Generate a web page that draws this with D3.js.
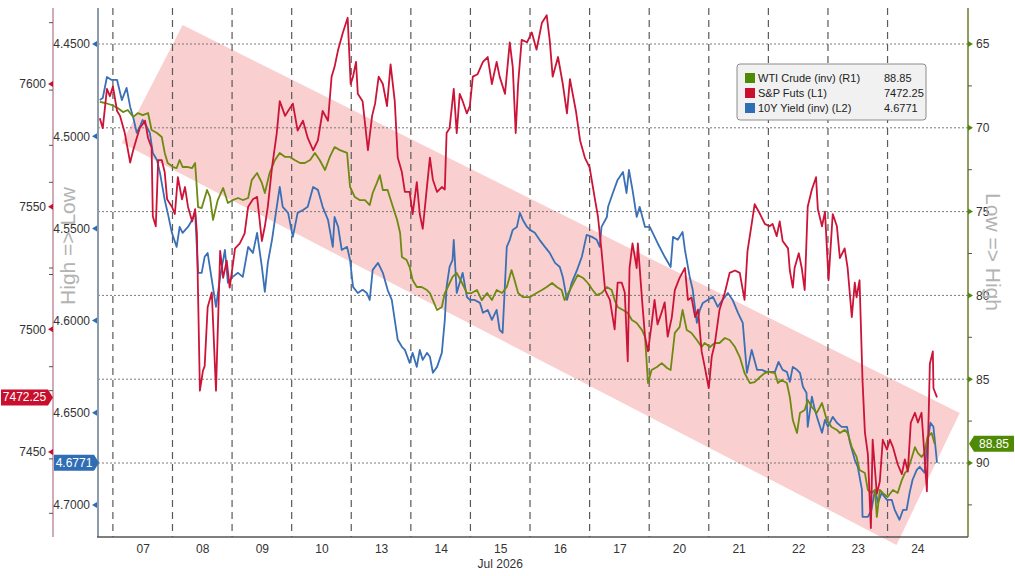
<!DOCTYPE html>
<html>
<head>
<meta charset="utf-8">
<script src="https://cdn.jsdelivr.net/npm/d3@7"></script>
<style>
  html, body { margin: 0; padding: 0; background: #fff; }
  svg { display: block; font-family: "Liberation Sans", Arial, sans-serif; }
</style>
</head>
<body>
<div id="chart"></div>
<script>
// trading days shown, one label per session (Jul 2026)
var dayLabels = ['07', '08', '09', '10', '13', '14', '15', '16', '17', '20', '21', '22', '23', '24'];
var spxTicks = [7450, 7500, 7550, 7600];
var spxMinor = [7425, 7475, 7525, 7575, 7625];
var yieldTicks = [4.45, 4.50, 4.55, 4.60, 4.65, 4.70];
var yieldMinor = [4.475, 4.525, 4.575, 4.625, 4.675];
var wtiTicks = [65, 70, 75, 80, 85, 90];
var wtiMinor = [67.5, 72.5, 77.5, 82.5, 87.5, 92.5];

var lastSpx = 7472.25;
var lastYield = 4.6771;
var lastWti = 88.85;

// [session day, value] ; day 0 = start of the 07 session
var spxFuts = [
  [-0.22,7586],[-0.17,7582],[-0.10,7598],[-0.05,7595],[0.00,7599],[0.07,7589],[0.12,7587],[0.20,7580],[0.29,7568],[0.34,7573],
  [0.40,7578],[0.45,7582],[0.54,7585],[0.59,7578],[0.65,7574],[0.67,7546],[0.72,7542],[0.76,7569],[0.82,7569],[0.87,7564],
  [0.91,7553],[0.99,7550],[1.04,7547],[1.09,7562],[1.16,7553],[1.21,7558],[1.26,7550],[1.33,7544],[1.38,7549],[1.41,7539],
  [1.46,7475],[1.51,7483],[1.54,7485],[1.59,7509],[1.66,7515],[1.73,7475],[1.80,7532],[1.85,7521],[1.91,7528],[1.96,7517],
  [2.05,7533],[2.13,7535],[2.21,7539],[2.27,7550],[2.35,7553],[2.42,7554],[2.50,7536],[2.55,7542],[2.60,7550],[2.67,7566],
  [2.75,7580],[2.80,7593],[2.89,7587],[2.94,7589],[3.02,7592],[3.10,7581],[3.19,7585],[3.27,7578],[3.36,7573],[3.44,7577],
  [3.52,7589],[3.61,7585],[3.67,7603],[3.72,7607],[3.78,7614],[3.86,7621],[3.94,7627],[3.99,7600],[4.03,7603],[4.08,7609],
  [4.11,7596],[4.19,7593],[4.28,7573],[4.35,7587],[4.40,7592],[4.46,7603],[4.53,7600],[4.60,7591],[4.66,7608],[4.73,7593],
  [4.78,7570],[4.85,7564],[4.90,7556],[4.98,7556],[5.03,7547],[5.10,7560],[5.15,7547],[5.20,7541],[5.27,7558],[5.32,7570],
  [5.37,7561],[5.44,7556],[5.52,7558],[5.57,7557],[5.60,7580],[5.65,7582],[5.72,7598],[5.77,7580],[5.82,7596],[5.87,7593],
  [5.94,7588],[5.99,7591],[6.04,7603],[6.12,7604],[6.21,7609],[6.29,7611],[6.36,7600],[6.44,7609],[6.49,7603],[6.58,7596],
  [6.66,7617],[6.71,7607],[6.76,7580],[6.80,7600],[6.86,7618],[6.95,7617],[7.03,7621],[7.11,7614],[7.20,7625],[7.28,7628],
  [7.33,7618],[7.38,7603],[7.47,7611],[7.55,7600],[7.62,7588],[7.67,7602],[7.77,7589],[7.84,7577],[7.92,7570],[8.00,7566],
  [8.09,7553],[8.14,7546],[8.20,7532],[8.26,7516],[8.34,7512],[8.42,7500],[8.47,7519],[8.54,7519],[8.59,7515],[8.64,7487],
  [8.67,7525],[8.72,7535],[8.79,7525],[8.81,7535],[8.88,7512],[8.93,7497],[8.98,7491],[9.04,7502],[9.09,7512],[9.14,7502],
  [9.21,7507],[9.26,7511],[9.31,7497],[9.38,7505],[9.43,7516],[9.51,7521],[9.60,7525],[9.65,7512],[9.71,7513],[9.77,7505],
  [9.82,7508],[9.88,7491],[9.93,7485],[10.00,7476],[10.05,7489],[10.10,7494],[10.18,7508],[10.27,7515],[10.35,7523],[10.44,7524],
  [10.52,7523],[10.60,7512],[10.65,7532],[10.72,7543],[10.77,7551],[10.86,7547],[10.94,7543],[11.02,7542],[11.07,7543],[11.14,7538],
  [11.19,7544],[11.24,7536],[11.33,7533],[11.36,7524],[11.41,7517],[11.44,7525],[11.51,7531],[11.56,7525],[11.61,7516],[11.66,7550],
  [11.73,7557],[11.80,7562],[11.83,7549],[11.90,7542],[11.95,7548],[12.01,7520],[12.08,7547],[12.15,7542],[12.20,7529],[12.28,7533],
  [12.33,7525],[12.40,7505],[12.45,7519],[12.48,7513],[12.53,7520],[12.58,7479],[12.62,7458],[12.67,7449],[12.72,7419],[12.75,7455],
  [12.82,7433],[12.87,7438],[12.92,7455],[12.99,7451],[13.04,7455],[13.09,7452],[13.17,7445],[13.24,7441],[13.29,7447],[13.34,7442],
  [13.39,7462],[13.46,7466],[13.51,7462],[13.57,7466],[13.61,7452],[13.66,7434],[13.71,7486],[13.76,7491],[13.77,7476],[13.83,7472.25]
];

var tenYearYield = [
  [-0.22,4.4804],[-0.17,4.4793],[-0.10,4.4679],[-0.02,4.4695],[0.07,4.4695],[0.15,4.4804],[0.23,4.4738],[0.29,4.4841],[0.34,4.4896],[0.40,4.4982],
  [0.45,4.4950],[0.50,4.4912],[0.57,4.4950],[0.62,4.4982],[0.67,4.5091],[0.74,4.5129],[0.79,4.5199],[0.87,4.5346],[0.92,4.5416],[0.99,4.5524],
  [1.07,4.5600],[1.12,4.5492],[1.17,4.5524],[1.26,4.5492],[1.33,4.5454],[1.38,4.5416],[1.43,4.5741],[1.49,4.5741],[1.54,4.5654],[1.59,4.5633],
  [1.66,4.5779],[1.73,4.5925],[1.80,4.5763],[1.88,4.5617],[1.93,4.5795],[2.01,4.5763],[2.10,4.5741],[2.18,4.5763],[2.27,4.5600],[2.35,4.5633],
  [2.42,4.5524],[2.50,4.5709],[2.55,4.5844],[2.60,4.5687],[2.67,4.5562],[2.75,4.5383],[2.80,4.5275],[2.85,4.5383],[2.94,4.5416],[3.02,4.5546],
  [3.10,4.5416],[3.19,4.5400],[3.27,4.5383],[3.36,4.5275],[3.44,4.5291],[3.52,4.5383],[3.61,4.5454],[3.69,4.5600],[3.72,4.5438],[3.78,4.5492],
  [3.84,4.5617],[3.93,4.5600],[3.98,4.5671],[4.03,4.5817],[4.11,4.5850],[4.19,4.5833],[4.26,4.5850],[4.31,4.5888],[4.36,4.5725],[4.45,4.5687],
  [4.53,4.5741],[4.61,4.5833],[4.68,4.5888],[4.73,4.5996],[4.78,4.6104],[4.85,4.6142],[4.90,4.6159],[4.98,4.6229],[5.03,4.6175],[5.10,4.6251],
  [5.15,4.6159],[5.20,4.6213],[5.27,4.6175],[5.32,4.6196],[5.37,4.6283],[5.44,4.6251],[5.52,4.6175],[5.57,4.5996],[5.60,4.5817],[5.65,4.5709],
  [5.70,4.5671],[5.72,4.5562],[5.77,4.5850],[5.82,4.5795],[5.87,4.5741],[5.94,4.5871],[5.99,4.5888],[6.07,4.5888],[6.16,4.5904],[6.21,4.5958],
  [6.29,4.5942],[6.36,4.5996],[6.44,4.5942],[6.49,4.6050],[6.54,4.6066],[6.61,4.5600],[6.66,4.5562],[6.71,4.5508],[6.78,4.5492],[6.83,4.5416],
  [6.88,4.5454],[6.95,4.5492],[7.00,4.5508],[7.08,4.5524],[7.16,4.5562],[7.25,4.5600],[7.33,4.5633],[7.42,4.5687],[7.50,4.5709],[7.55,4.5763],
  [7.62,4.5888],[7.67,4.5833],[7.70,4.5795],[7.79,4.5725],[7.87,4.5654],[7.95,4.5535],[8.04,4.5546],[8.12,4.5562],[8.17,4.5600],[8.20,4.5492],
  [8.29,4.5438],[8.31,4.5383],[8.39,4.5308],[8.47,4.5237],[8.56,4.5194],[8.62,4.5308],[8.66,4.5183],[8.72,4.5291],[8.79,4.5438],[8.84,4.5383],
  [8.93,4.5492],[9.01,4.5492],[9.14,4.5579],[9.26,4.5654],[9.36,4.5709],[9.40,4.5546],[9.48,4.5562],[9.56,4.5519],[9.60,4.5617],[9.68,4.5763],
  [9.73,4.5833],[9.80,4.6012],[9.85,4.5942],[9.90,4.5904],[9.98,4.5888],[10.07,4.5871],[10.15,4.5925],[10.23,4.5888],[10.32,4.5850],[10.40,4.5888],
  [10.49,4.5958],[10.57,4.6012],[10.64,4.6283],[10.72,4.6159],[10.81,4.6267],[10.89,4.6267],[10.97,4.6278],[11.11,4.6278],[11.17,4.6224],[11.24,4.6267],
  [11.31,4.6278],[11.36,4.6332],[11.41,4.6251],[11.48,4.6267],[11.53,4.6283],[11.58,4.6359],[11.64,4.6392],[11.66,4.6576],[11.73,4.6413],[11.78,4.6484],
  [11.83,4.6538],[11.90,4.6608],[11.95,4.6538],[12.00,4.6576],[12.08,4.6522],[12.15,4.6554],[12.23,4.6576],[12.32,4.6576],[12.37,4.6663],[12.45,4.6755],
  [12.50,4.6793],[12.57,4.6917],[12.58,4.7064],[12.67,4.7064],[12.73,4.7026],[12.79,4.6917],[12.84,4.6988],[12.90,4.6934],[12.99,4.6972],[13.07,4.6972],
  [13.12,4.7026],[13.20,4.7080],[13.26,4.7026],[13.32,4.7026],[13.37,4.6934],[13.42,4.6863],[13.49,4.6809],[13.54,4.6793],[13.62,4.6825],[13.66,4.6684],
  [13.72,4.6554],[13.77,4.6576],[13.83,4.6771]
];

var wtiCrude = [
  [-0.22,68.46],[-0.13,68.52],[-0.02,68.64],[0.08,68.82],[0.17,69.06],[0.25,68.94],[0.34,69.36],[0.42,69.12],[0.50,69.24],[0.59,69.12],
  [0.65,70.13],[0.74,70.31],[0.82,70.55],[0.87,71.50],[0.92,72.10],[1.01,72.34],[1.07,72.40],[1.12,71.92],[1.17,72.34],[1.26,72.34],
  [1.33,72.40],[1.38,72.10],[1.43,74.73],[1.49,74.79],[1.58,73.71],[1.63,74.13],[1.68,75.50],[1.76,74.31],[1.85,73.59],[1.93,74.49],
  [2.01,74.31],[2.10,74.19],[2.18,74.31],[2.27,74.19],[2.33,73.12],[2.42,72.70],[2.50,73.29],[2.55,73.89],[2.63,72.70],[2.72,71.92],
  [2.80,71.50],[2.89,71.74],[2.97,71.74],[3.05,71.92],[3.14,72.10],[3.22,72.10],[3.31,71.92],[3.39,71.50],[3.47,71.92],[3.56,72.52],
  [3.64,71.74],[3.72,71.15],[3.81,71.33],[3.93,71.50],[3.98,73.53],[4.06,74.13],[4.14,74.31],[4.23,74.31],[4.31,74.61],[4.36,73.89],
  [4.43,73.29],[4.48,72.82],[4.53,73.71],[4.61,73.71],[4.70,74.73],[4.77,75.50],[4.82,76.28],[4.85,77.71],[4.93,77.89],[4.98,78.31],
  [5.03,79.08],[5.10,79.50],[5.18,79.50],[5.27,79.68],[5.32,79.86],[5.37,80.28],[5.44,80.87],[5.52,80.69],[5.57,79.86],[5.62,79.50],
  [5.70,78.90],[5.77,78.66],[5.86,79.26],[5.94,79.86],[6.02,79.86],[6.11,79.68],[6.19,80.28],[6.28,79.86],[6.36,80.28],[6.44,79.68],
  [6.53,79.86],[6.61,79.50],[6.69,78.49],[6.74,79.08],[6.80,79.86],[6.88,80.10],[7.00,80.10],[7.11,79.86],[7.20,79.68],[7.28,79.50],
  [7.37,79.26],[7.45,79.50],[7.53,79.68],[7.58,80.28],[7.67,79.68],[7.80,78.78],[7.89,78.96],[7.97,79.26],[8.05,79.68],[8.12,79.98],
  [8.20,79.86],[8.29,79.50],[8.37,79.68],[8.42,80.28],[8.47,80.69],[8.56,80.87],[8.64,81.05],[8.71,81.47],[8.79,81.65],[8.88,82.07],
  [8.93,82.48],[8.98,85.23],[9.04,84.45],[9.13,84.27],[9.21,84.04],[9.30,84.33],[9.36,84.45],[9.43,82.24],[9.51,81.89],[9.56,80.87],
  [9.63,82.07],[9.71,82.24],[9.80,82.66],[9.88,83.08],[9.93,82.84],[10.02,83.08],[10.10,82.84],[10.18,82.84],[10.27,82.54],[10.35,82.66],
  [10.44,83.08],[10.52,83.68],[10.60,84.63],[10.69,85.23],[10.77,85.17],[10.86,84.87],[10.94,84.63],[11.02,84.57],[11.11,84.63],[11.16,85.23],
  [11.22,85.05],[11.31,85.23],[11.36,86.06],[11.41,87.44],[11.48,88.21],[11.53,87.02],[11.61,86.84],[11.66,86.24],[11.73,86.66],[11.81,87.02],
  [11.90,86.42],[11.98,87.44],[12.06,87.85],[12.15,88.03],[12.20,88.21],[12.28,88.03],[12.33,88.21],[12.40,89.05],[12.48,89.64],[12.53,90.42],
  [12.62,90.60],[12.67,91.61],[12.73,91.79],[12.79,91.61],[12.82,93.22],[12.87,91.61],[12.92,91.79],[13.00,92.03],[13.09,91.61],[13.17,91.79],
  [13.24,91.02],[13.29,90.60],[13.34,90.42],[13.41,89.64],[13.46,89.05],[13.51,89.41],[13.57,89.64],[13.62,89.41],[13.67,88.45],[13.74,88.21],
  [13.79,88.85]
];

// downward channel drawn on the chart, corners as [session day, WTI level]
var channel = [[0.15, 70.91], [1.17, 63.87], [14.21, 87.02], [13.15, 94.89]];

var width = 1015;
var height = 576;
var plotLeft = 98, plotRight = 968, plotTop = 8, plotBottom = 537;
var red = '#c8102e', blue = '#2f6db5', green = '#4f8a05';

var x = d3.scaleLinear().domain([-0.25, 14.35]).range([plotLeft, plotRight]);
var ySpx = d3.scaleLinear().domain([7600, 7450]).range([84, 452]);
var yYield = d3.scaleLinear().domain([4.45, 4.70]).range([44, 505]);
var yWti = d3.scaleLinear().domain([65, 90]).range([44, 463]);

var svg = d3.select('#chart').append('svg')
    .attr('width', width)
    .attr('height', height);

svg.append('defs').append('clipPath').attr('id', 'plotClip')
    .append('rect')
    .attr('x', plotLeft).attr('y', plotTop)
    .attr('width', plotRight - plotLeft).attr('height', plotBottom - plotTop);

// channel band
svg.append('polygon')
    .attr('points', channel.map(function (d) { return x(d[0]) + ',' + yWti(d[1]); }).join(' '))
    .attr('fill', '#f7c3c3')
    .attr('opacity', 0.8);

// horizontal dotted grid (follows the right axis)
svg.append('g').selectAll('line')
    .data(wtiTicks)
    .enter().append('line')
    .attr('x1', plotLeft).attr('x2', plotRight)
    .attr('y1', function (d) { return yWti(d); })
    .attr('y2', function (d) { return yWti(d); })
    .attr('stroke', '#7a7a7a')
    .attr('stroke-width', 1)
    .attr('stroke-dasharray', '2,2');

// day separators
svg.append('g').selectAll('line')
    .data(d3.range(dayLabels.length))
    .enter().append('line')
    .attr('x1', function (d) { return x(d); })
    .attr('x2', function (d) { return x(d); })
    .attr('y1', plotTop).attr('y2', plotBottom)
    .attr('stroke', '#5a5a5a')
    .attr('stroke-width', 1.2)
    .attr('stroke-dasharray', '7,5');

// series
var lines = svg.append('g').attr('clip-path', 'url(#plotClip)');
function drawSeries(data, yScale, color) {
    var line = d3.line()
        .x(function (d) { return x(d[0]); })
        .y(function (d) { return yScale(d[1]); });
    lines.append('path')
        .datum(data)
        .attr('d', line)
        .attr('fill', 'none')
        .attr('stroke', color)
        .attr('stroke-width', 1.8)
        .attr('stroke-linejoin', 'round');
}
drawSeries(tenYearYield, yYield, '#3a70b5');
drawSeries(wtiCrude, yWti, '#6d8a12');
drawSeries(spxFuts, ySpx, '#cc1438');

// axis lines
svg.append('line').attr('x1', 53).attr('x2', 53).attr('y1', plotTop).attr('y2', plotBottom)
    .attr('stroke', '#a3566c').attr('stroke-width', 1);
svg.append('line').attr('x1', plotLeft).attr('x2', plotLeft).attr('y1', plotTop).attr('y2', plotBottom)
    .attr('stroke', '#8e9ba8').attr('stroke-width', 2);
svg.append('line').attr('x1', plotRight).attr('x2', plotRight).attr('y1', plotTop).attr('y2', plotBottom)
    .attr('stroke', '#6b7d2b').attr('stroke-width', 1.5);
svg.append('line').attr('x1', plotLeft - 1).attr('x2', plotRight).attr('y1', plotBottom).attr('y2', plotBottom)
    .attr('stroke', '#555').attr('stroke-width', 1.5);

function styleAxis(g) {
    g.select('.domain').remove();
    g.selectAll('text').attr('fill', '#333').style('font-size', '12px')
        .style('font-family', '"Liberation Sans", Arial, sans-serif');
}

// S&P axis (L1)
svg.append('g').attr('transform', 'translate(53,0)')
    .call(d3.axisLeft(ySpx).tickValues(spxTicks).tickSize(0).tickPadding(7).tickFormat(d3.format('d')))
    .call(styleAxis);
svg.append('g').selectAll('path')
    .data(spxTicks).enter().append('path')
    .attr('d', function (d) { var y = ySpx(d); return 'M53,' + (y - 3) + 'L48,' + y + 'L53,' + (y + 3) + 'Z'; })
    .attr('fill', red);
svg.append('g').selectAll('line')
    .data(spxMinor.concat(yieldMinor.map(function (d) { return ySpx.invert(yYield(d)); })))
    .enter().append('line')
    .attr('x1', 49).attr('x2', 53)
    .attr('y1', function (d) { return ySpx(d); })
    .attr('y2', function (d) { return ySpx(d); })
    .attr('stroke', '#555');

// 10Y axis (L2)
svg.append('g').attr('transform', 'translate(97,0)')
    .call(d3.axisLeft(yYield).tickValues(yieldTicks).tickSize(0).tickPadding(7).tickFormat(d3.format('.4f')))
    .call(styleAxis);
svg.append('g').selectAll('path')
    .data(yieldTicks).enter().append('path')
    .attr('d', function (d) { var y = yYield(d); return 'M97,' + (y - 3) + 'L92,' + y + 'L97,' + (y + 3) + 'Z'; })
    .attr('fill', blue);

// WTI axis (R1)
svg.append('g').attr('transform', 'translate(' + plotRight + ',0)')
    .call(d3.axisRight(yWti).tickValues(wtiTicks).tickSize(0).tickPadding(8))
    .call(styleAxis);
svg.append('g').selectAll('path')
    .data(wtiTicks).enter().append('path')
    .attr('d', function (d) { var y = yWti(d); return 'M' + plotRight + ',' + (y - 3) + 'L' + (plotRight + 5) + ',' + y + 'L' + plotRight + ',' + (y + 3) + 'Z'; })
    .attr('fill', green);
svg.append('g').selectAll('line')
    .data(wtiMinor).enter().append('line')
    .attr('x1', plotRight).attr('x2', plotRight + 4)
    .attr('y1', function (d) { return yWti(d); })
    .attr('y2', function (d) { return yWti(d); })
    .attr('stroke', '#555');

// time axis
svg.append('g').attr('transform', 'translate(0,' + plotBottom + ')')
    .call(d3.axisBottom(x)
        .tickValues(d3.range(dayLabels.length).map(function (i) { return i + 0.5; }))
        .tickFormat(function (d, i) { return dayLabels[i]; })
        .tickSize(0).tickPadding(7))
    .call(styleAxis);
svg.append('text')
    .attr('x', x(6.5)).attr('y', 568)
    .attr('text-anchor', 'middle')
    .attr('fill', '#333').style('font-size', '12px')
    .text('Jul 2026');

// last value tags
function tag(tipX, value, yScale, w, pointLeft, fill, label) {
    var y = yScale(value);
    var h = 8, a = 5;
    var p, cx;
    if (pointLeft) {
        p = 'M' + tipX + ',' + y + 'L' + (tipX + a) + ',' + (y - h) + 'H' + (tipX + a + w) +
            'V' + (y + h) + 'H' + (tipX + a) + 'Z';
        cx = tipX + a + w / 2;
    } else {
        p = 'M' + tipX + ',' + y + 'L' + (tipX - a) + ',' + (y - h) + 'H' + (tipX - a - w) +
            'V' + (y + h) + 'H' + (tipX - a) + 'Z';
        cx = tipX - a - w / 2;
    }
    svg.append('path').attr('d', p).attr('fill', fill);
    svg.append('text')
        .attr('x', cx).attr('y', y + 4)
        .attr('text-anchor', 'middle')
        .attr('fill', '#fff').style('font-size', '12px')
        .text(label);
}
tag(53, lastSpx, ySpx, 47, false, red, '7472.25');
tag(99, lastYield, yYield, 40, false, blue, '4.6771');
tag(plotRight + 1, lastWti, yWti, 40, true, green, '88.85');

// rotated direction labels
svg.append('text')
    .attr('transform', 'translate(75,246) rotate(-90)')
    .attr('text-anchor', 'middle')
    .attr('fill', '#b3b3b3').style('font-size', '21px')
    .text('High => Low');
svg.append('text')
    .attr('transform', 'translate(986,252) rotate(90)')
    .attr('text-anchor', 'middle')
    .attr('fill', '#b3b3b3').style('font-size', '21px')
    .text('Low => High');

// legend
var legendItems = [
    { name: 'WTI Crude (inv) (R1)', value: '88.85', color: green },
    { name: 'S&P Futs (L1)', value: '7472.25', color: red },
    { name: '10Y Yield (inv) (L2)', value: '4.6771', color: blue }
];
var legend = svg.append('g').attr('transform', 'translate(737,64)');
legend.append('rect')
    .attr('width', 189).attr('height', 56).attr('rx', 3)
    .attr('fill', '#f1f1f1').attr('stroke', '#8c8c8c');
var rows = legend.selectAll('.legend')
    .data(legendItems)
    .enter().append('g')
    .attr('class', 'legend')
    .attr('transform', function (d, i) { return 'translate(0,' + (14 + i * 15) + ')'; });
rows.append('rect')
    .attr('x', 8).attr('y', -5).attr('width', 10).attr('height', 10)
    .attr('fill', function (d) { return d.color; });
rows.append('text')
    .attr('x', 21).attr('y', 4)
    .attr('fill', '#222').style('font-size', '11px')
    .text(function (d) { return d.name; });
rows.append('text')
    .attr('x', 147).attr('y', 4)
    .attr('fill', '#222').style('font-size', '11px')
    .text(function (d) { return d.value; });
</script>
</body>
</html>
